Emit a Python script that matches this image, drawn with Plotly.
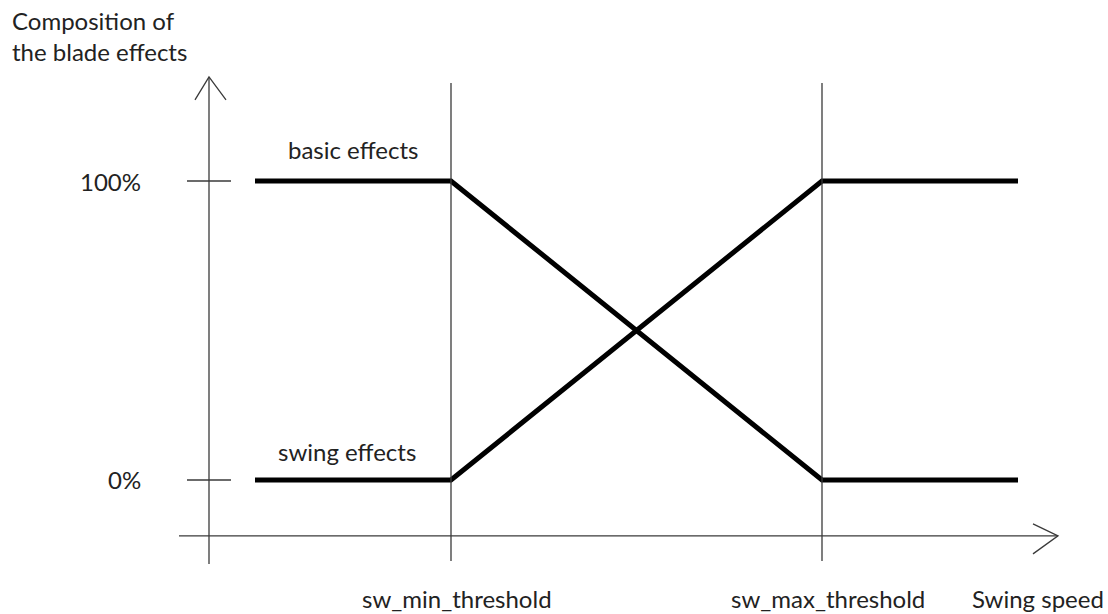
import plotly.graph_objects as go

# ---- data (x in arbitrary speed units, y in percent) ----
sw_min_threshold = 242
sw_max_threshold = 613
speed_points = [46, sw_min_threshold, sw_max_threshold, 809]
basic_effects = [100, 100, 0, 0]
swing_effects = [0, 0, 100, 100]
y_tick_values = [100, 0]
y_tick_labels = ["100%", "0%"]
x_labels = ["sw_min_threshold", "sw_max_threshold"]

# ---- geometry constants (axes extents in data units) ----
X_MIN, X_MAX = -209, 899
Y_MIN, Y_MAX = -44.82, 160.54
PX_PER_PCT = 2.99
XAXIS_Y = -18.7
XAXIS_X0, XAXIS_X1 = -30, 849
YAXIS_X = 0
YAXIS_Y0, YAXIS_Y1 = -28.1, 134.8
VLINE_Y0, VLINE_Y1 = -27.1, 132.8
TICK_HALF = 22

FONT = "Lato, 'Open Sans', sans-serif"
FS = 24
TXT = "#222222"
AX = "#3a3a3a"

fig = go.Figure()

for series in (basic_effects, swing_effects):
    fig.add_trace(go.Scatter(x=speed_points, y=series, mode="lines",
                             line=dict(color="black", width=5), showlegend=False,
                             hoverinfo="skip"))

shapes = []
# y axis
shapes.append(dict(type="line", x0=YAXIS_X, x1=YAXIS_X, y0=YAXIS_Y0, y1=YAXIS_Y1,
                   line=dict(color=AX, width=1.3)))
# x axis
shapes.append(dict(type="line", x0=XAXIS_X0, x1=XAXIS_X1, y0=XAXIS_Y, y1=XAXIS_Y,
                   line=dict(color=AX, width=1.3)))
# arrowheads (open V)
dy = 23 / PX_PER_PCT
shapes.append(dict(type="path",
                   path=f"M {YAXIS_X-14},{YAXIS_Y1-dy} L {YAXIS_X},{YAXIS_Y1} L {YAXIS_X+17},{YAXIS_Y1-dy}",
                   line=dict(color=AX, width=1.3)))
shapes.append(dict(type="path",
                   path=f"M {XAXIS_X1-25},{XAXIS_Y+12/PX_PER_PCT} L {XAXIS_X1},{XAXIS_Y} L {XAXIS_X1-25},{XAXIS_Y-18/PX_PER_PCT}",
                   line=dict(color=AX, width=1.3)))
# threshold vertical lines
for xv in [sw_min_threshold, sw_max_threshold]:
    shapes.append(dict(type="line", x0=xv, x1=xv, y0=VLINE_Y0, y1=VLINE_Y1,
                       line=dict(color=AX, width=1.3)))
# y ticks
for yv in y_tick_values:
    shapes.append(dict(type="line", x0=YAXIS_X - TICK_HALF, x1=YAXIS_X + TICK_HALF,
                       y0=yv, y1=yv, line=dict(color=AX, width=1.3)))

font = dict(family=FONT, size=FS, color=TXT)
annotations = []
for yv, lab in zip(y_tick_values, y_tick_labels):
    annotations.append(dict(x=YAXIS_X - 66, y=yv, text=lab, showarrow=False,
                            xanchor="right", yanchor="middle", font=font))
for xv, lab, yl in zip([sw_min_threshold, sw_max_threshold], x_labels, [-39.8, -39.8]):
    annotations.append(dict(x=xv + 6, y=yl, text=lab, showarrow=False,
                            xanchor="center", yanchor="middle", font=font))
annotations.append(dict(x=829, y=-39.8, text="Swing speed", showarrow=False,
                        xanchor="center", yanchor="middle", font=font))
annotations.append(dict(x=143.5, y=110.4, text="basic effects", showarrow=False,
                        xanchor="center", yanchor="middle", font=font))
annotations.append(dict(x=138, y=9.4, text="swing effects", showarrow=False,
                        xanchor="center", yanchor="middle", font=font))
annotations.append(dict(x=X_MIN + 10, y=Y_MAX - 1.2, text="Composition of<br>the blade effects",
                        showarrow=False, xanchor="left", yanchor="top", align="left",
                        font=font))

fig.update_layout(
    width=1108, height=614,
    margin=dict(l=0, r=0, t=0, b=0),
    paper_bgcolor="white", plot_bgcolor="white",
    xaxis=dict(range=[X_MIN, X_MAX], visible=False, fixedrange=True),
    yaxis=dict(range=[Y_MIN, Y_MAX], visible=False, fixedrange=True),
    shapes=shapes, annotations=annotations,
)

fig.write_html("out.html",
               config={"displayModeBar": False},
               post_script="document.body.style.margin='0';document.body.style.overflow='hidden';")
